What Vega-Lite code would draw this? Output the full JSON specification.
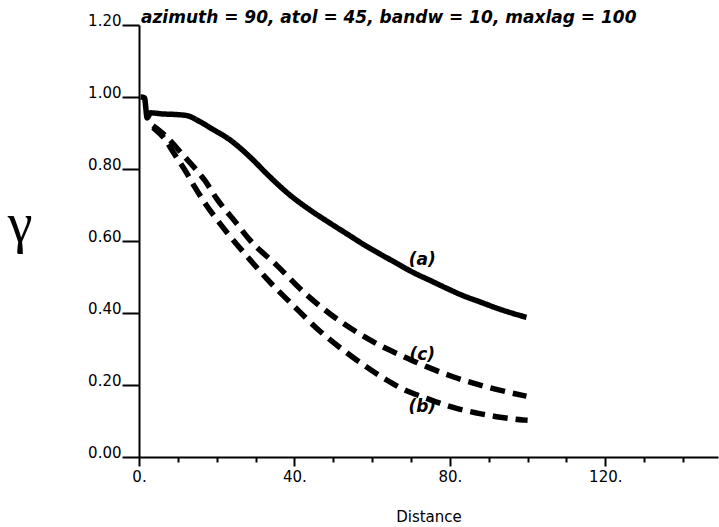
{
  "$schema": "https://vega.github.io/schema/vega-lite/v6.json",
  "width": 579,
  "height": 432,
  "autosize": {"type": "none"},
  "padding": {"left": 139, "top": 25, "right": 1, "bottom": 70},
  "background": "white",
  "config": {"view": {"stroke": null}},
  "title": {
    "text": "azimuth = 90, atol = 45, bandw = 10, maxlag = 100",
    "font": "DejaVu Sans",
    "fontSize": 17,
    "fontWeight": "bold",
    "fontStyle": "italic",
    "color": "black",
    "anchor": "start",
    "frame": "group",
    "orient": "top",
    "baseline": "alphabetic",
    "offset": 3,
    "dx": 2,
    "dy": 30
  },
  "datasets": {
    "curves": [
      {"s": "a", "d": 0.4, "v": 1.0},
      {"s": "a", "d": 1.4, "v": 0.998},
      {"s": "a", "d": 2.1, "v": 0.942},
      {"s": "a", "d": 3.0, "v": 0.956},
      {"s": "a", "d": 6, "v": 0.953},
      {"s": "a", "d": 10, "v": 0.951},
      {"s": "a", "d": 12.5, "v": 0.948},
      {"s": "a", "d": 15.6, "v": 0.932},
      {"s": "a", "d": 19, "v": 0.91},
      {"s": "a", "d": 23.4, "v": 0.881},
      {"s": "a", "d": 28.5, "v": 0.834},
      {"s": "a", "d": 33.6, "v": 0.779},
      {"s": "a", "d": 38.8, "v": 0.728},
      {"s": "a", "d": 43.9, "v": 0.687},
      {"s": "a", "d": 49.1, "v": 0.65},
      {"s": "a", "d": 54.5, "v": 0.613},
      {"s": "a", "d": 58, "v": 0.589},
      {"s": "a", "d": 62, "v": 0.564},
      {"s": "a", "d": 66, "v": 0.54},
      {"s": "a", "d": 70.5, "v": 0.513},
      {"s": "a", "d": 75, "v": 0.49},
      {"s": "a", "d": 79.1, "v": 0.469},
      {"s": "a", "d": 83, "v": 0.45},
      {"s": "a", "d": 87.7, "v": 0.431},
      {"s": "a", "d": 93, "v": 0.41},
      {"s": "a", "d": 99.7, "v": 0.388},
      {"s": "b", "d": 3.6, "v": 0.915},
      {"s": "b", "d": 6.5, "v": 0.885},
      {"s": "b", "d": 9.2, "v": 0.84},
      {"s": "b", "d": 12.6, "v": 0.783},
      {"s": "b", "d": 14.3, "v": 0.751},
      {"s": "b", "d": 17.3, "v": 0.7},
      {"s": "b", "d": 20.8, "v": 0.649},
      {"s": "b", "d": 23.3, "v": 0.615},
      {"s": "b", "d": 28, "v": 0.555},
      {"s": "b", "d": 32.8, "v": 0.496},
      {"s": "b", "d": 39.6, "v": 0.422},
      {"s": "b", "d": 46.5, "v": 0.35},
      {"s": "b", "d": 53.4, "v": 0.29},
      {"s": "b", "d": 60.2, "v": 0.238},
      {"s": "b", "d": 64.5, "v": 0.209},
      {"s": "b", "d": 67.1, "v": 0.193},
      {"s": "b", "d": 74, "v": 0.163},
      {"s": "b", "d": 81.7, "v": 0.135},
      {"s": "b", "d": 87, "v": 0.122},
      {"s": "b", "d": 92, "v": 0.112},
      {"s": "b", "d": 98.8, "v": 0.103},
      {"s": "b", "d": 100, "v": 0.102},
      {"s": "c", "d": 3.6, "v": 0.92},
      {"s": "c", "d": 6.5, "v": 0.895},
      {"s": "c", "d": 9.2, "v": 0.865},
      {"s": "c", "d": 10.9, "v": 0.844},
      {"s": "c", "d": 14.8, "v": 0.797},
      {"s": "c", "d": 16.9, "v": 0.769},
      {"s": "c", "d": 19.9, "v": 0.719},
      {"s": "c", "d": 25.1, "v": 0.649},
      {"s": "c", "d": 28.5, "v": 0.603},
      {"s": "c", "d": 35.4, "v": 0.533},
      {"s": "c", "d": 42.7, "v": 0.455},
      {"s": "c", "d": 49.1, "v": 0.398},
      {"s": "c", "d": 56, "v": 0.347},
      {"s": "c", "d": 62, "v": 0.31},
      {"s": "c", "d": 67.9, "v": 0.28},
      {"s": "c", "d": 74, "v": 0.251},
      {"s": "c", "d": 80.8, "v": 0.223},
      {"s": "c", "d": 89.4, "v": 0.195},
      {"s": "c", "d": 99.7, "v": 0.169}
    ],
    "labels": [
      {"lab": "(a)", "d": 72.9, "v": 0.547},
      {"lab": "(c)", "d": 72.9, "v": 0.283},
      {"lab": "(b)", "d": 72.9, "v": 0.14}
    ]
  },
  "layer": [
    {
      "data": {"name": "curves"},
      "mark": {"type": "line", "color": "black", "strokeWidth": 5.5, "strokeCap": "butt", "interpolate": "monotone", "clip": true},
      "encoding": {
        "x": {
          "field": "d",
          "type": "quantitative",
          "scale": {"domain": [0, 149], "nice": false, "zero": false},
          "axis": {
            "values": [0, 10, 20, 30, 40, 50, 60, 70, 80, 90, 100, 110, 120, 130, 140],
            "labelExpr": "datum.value % 40 === 0 ? datum.value + '.' : ''",
            "grid": false,
            "domainColor": "black",
            "domainWidth": 2,
            "tickColor": "black",
            "tickWidth": 2,
            "tickSize": {"condition": {"test": "datum.value % 40 === 0", "value": 9}, "value": 5},
            "labelFont": "DejaVu Sans",
            "labelFontSize": 15,
            "labelColor": "black",
            "labelPadding": 3,
            "labelFlush": false,
            "labelOverlap": false,
            "labelBound": false,
            "title": "Distance",
            "titleFont": "DejaVu Sans",
            "titleFontSize": 15,
            "titleFontWeight": "normal",
            "titleColor": "black",
            "titleBaseline": "middle",
            "titleY": 59
          }
        },
        "y": {
          "field": "v",
          "type": "quantitative",
          "scale": {"domain": [0, 1.2], "nice": false, "zero": false},
          "axis": {
            "values": [0, 0.05, 0.1, 0.15, 0.2, 0.25, 0.3, 0.35, 0.4, 0.45, 0.5, 0.55, 0.6, 0.65, 0.7, 0.75, 0.8, 0.85, 0.9, 0.95, 1.0, 1.05, 1.1, 1.15, 1.2],
            "labelExpr": "round(datum.value * 100) % 20 === 0 ? format(datum.value, '.2f') : ''",
            "grid": false,
            "domainColor": "black",
            "domainWidth": 2,
            "tickColor": "black",
            "tickWidth": 2,
            "tickSize": {"condition": {"test": "round(datum.value * 100) % 20 === 0", "value": 17}, "value": 7},
            "labelFont": "DejaVu Sans",
            "labelFontSize": 15,
            "labelColor": "black",
            "labelPadding": 1,
            "labelBaseline": "alphabetic",
            "labelFlush": false,
            "labelOverlap": false,
            "labelBound": false,
            "title": "γ",
            "titleFont": "Liberation Serif",
            "titleFontSize": 56,
            "titleFontWeight": "normal",
            "titleColor": "black",
            "titleAngle": 0,
            "titleAlign": "center",
            "titleBaseline": "alphabetic",
            "titleX": -119.5,
            "titleY": 216
          }
        },
        "detail": {"field": "s"},
        "strokeDash": {
          "field": "s",
          "type": "nominal",
          "scale": {"domain": ["a", "b", "c"], "range": [[1, 0], [15, 8], [15, 8]]},
          "legend": null
        }
      }
    },
    {
      "data": {"name": "labels"},
      "mark": {"type": "text", "font": "DejaVu Sans", "fontSize": 17, "fontWeight": "bold", "fontStyle": "italic", "color": "black", "align": "center", "baseline": "middle"},
      "encoding": {
        "x": {"field": "d", "type": "quantitative"},
        "y": {"field": "v", "type": "quantitative"},
        "text": {"field": "lab"}
      }
    }
  ]
}
